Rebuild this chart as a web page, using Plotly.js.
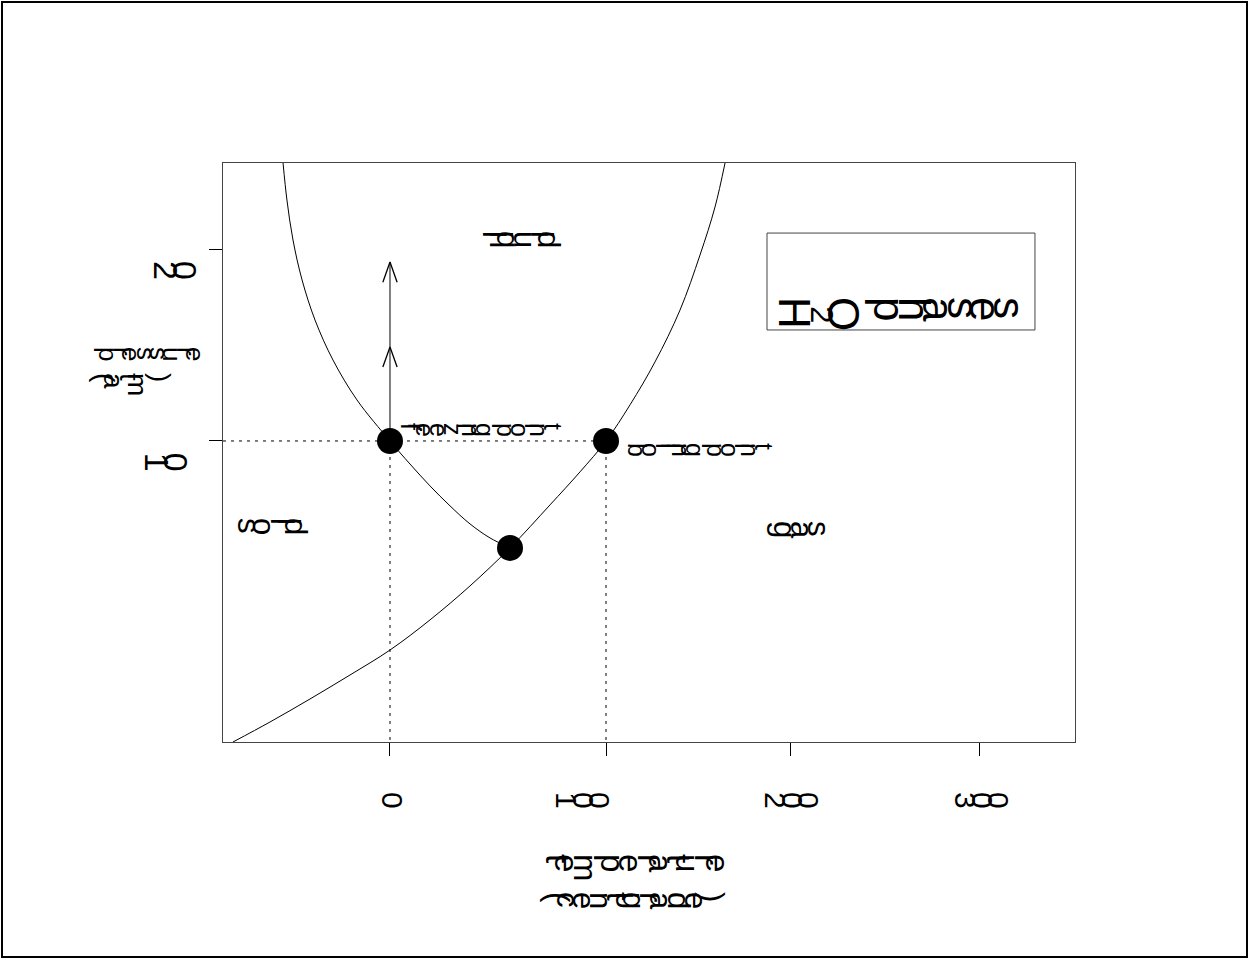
<!DOCTYPE html>
<html><head><meta charset="utf-8">
<script src="https://cdn.plot.ly/plotly-3.0.1.min.js"></script>
<style>
html,body{margin:0;padding:0;background:#fff;}
#chart{width:1249px;height:960px;}
#frame{position:absolute;left:1px;top:1px;width:1243px;height:953px;border:2px solid #000;pointer-events:none;}
</style></head><body>
<div id="chart"></div><div id="frame"></div>
<script>
// solid-liquid boundary (temperature, pressure)
const fusionT = [-49.5, -47.7, -44.9, -40.7, -34.7, -26.4, -15.3, 0, 9.26, 18.52, 27.78, 37.04, 46.30, 55.56];
const fusionP = [2.448, 2.255, 2.047, 1.839, 1.630, 1.422, 1.214, 1.0, 0.880, 0.766, 0.662, 0.568, 0.495, 0.443];
// solid-gas and liquid-gas boundary
const vaporT = [-72.69, -55.56, -37.04, -18.52, 0, 18.52, 37.04, 55.56, 74.07, 87.96, 100, 111.11, 122.69, 134.26, 143.52, 150.46, 155.09];
const vaporP = [-0.568, -0.464, -0.344, -0.219, -0.089, 0.068, 0.245, 0.443, 0.667, 0.839, 1.0, 1.188, 1.412, 1.682, 1.969, 2.219, 2.448];
// freezing, boiling, triple point
const pointT = [0, 100, 55.56];
const pointP = [1, 1, 0.443];
// vertical arrow
const arrowT = [0, 0];
const arrowP = [1, 1.932];
const arrowTipP = [1.49, 1.932];
// axis ticks
const xTickVals = [0, 100, 185.2, 273.1];
const xTickText = ['0', '100\u00a0\u00a0\u00a0\u00a0\u00a0\u00a0', '200', '300'];
const yTickVals = [1, 2];
const yTickText = ['10\u00a0', '20'];
// labels
const regionText = ['liquid', 'solid', 'gas'];
const regionT = [42.1, -71.3, 176.9];
const regionP = [2.25, 0.755, 0.74];
const pointText = ['freezing point', 'boiling point'];
const pointLabT = [4.2, 109.3];
const pointLabP = [1.222, 1.118];
const legendText = 'H<sub>2</sub>O phases';
const xTitleLines = ['temperature', '(centigrade)'];
const yTitleLines = ['pressure', '(atm)'];

const FONT = 'Liberation Sans, Arial, sans-serif';
const traces = [];
traces.push({x: fusionT, y: fusionP, mode: 'lines', line: {color: '#000', width: 1, shape: 'spline'}, hoverinfo: 'skip'});
traces.push({x: vaporT, y: vaporP, mode: 'lines', line: {color: '#000', width: 1, shape: 'spline'}, hoverinfo: 'skip'});
// dotted guides
const dot = {color: '#000', width: 1, dash: '3px,5px'};
traces.push({x: [-77.3, pointT[1]], y: [pointP[0], pointP[1]], mode: 'lines', line: dot});
traces.push({x: [pointT[0], pointT[0]], y: [pointP[0], -0.568], mode: 'lines', line: dot});
traces.push({x: [pointT[1], pointT[1]], y: [pointP[1], -0.568], mode: 'lines', line: dot});
// arrow shaft and heads
traces.push({x: arrowT, y: arrowP, mode: 'lines', line: {color: '#000', width: 1}});
const hx = [], hy = [];
arrowTipP.forEach(p => { hx.push(arrowT[0] - 3.3, arrowT[0], arrowT[0] + 3.3, null); hy.push(p - 0.105, p, p - 0.105, null); });
traces.push({x: hx, y: hy, mode: 'lines', line: {color: '#000', width: 1.3}});
traces.push({x: pointT, y: pointP, mode: 'markers', marker: {color: '#000', size: 26}});

const ann = [];
regionText.forEach((t, i) => ann.push({x: regionT[i], y: regionP[i], xref: 'x', yref: 'y', text: t, showarrow: false, xanchor: 'left', yanchor: 'top', font: {family: FONT, size: 31, color: '#000'}}));
pointText.forEach((t, i) => ann.push({x: pointLabT[i], y: pointLabP[i], xref: 'x', yref: 'y', text: t, showarrow: false, xanchor: 'left', yanchor: 'top', font: {family: FONT, size: 25, color: '#000'}}));
ann.push({x: 0.6502, y: 0.8407, xref: 'paper', yref: 'paper', text: legendText, showarrow: false, xanchor: 'left', yanchor: 'top', font: {family: FONT, size: 44, color: '#000'}});
ann.push({x: 0.3768, y: -0.1382, xref: 'paper', yref: 'paper', text: xTitleLines[0], showarrow: false, xanchor: 'left', yanchor: 'top', font: {family: FONT, size: 33, color: '#000'}});
ann.push({x: 0.3785, y: -0.2073, xref: 'paper', yref: 'paper', text: xTitleLines[1], showarrow: false, xanchor: 'left', yanchor: 'top', font: {family: FONT, size: 31, color: '#000'}});
ann.push({x: -0.1479, y: 0.7275, xref: 'paper', yref: 'paper', text: yTitleLines[0], showarrow: false, xanchor: 'left', yanchor: 'top', font: {family: FONT, size: 26, color: '#000'}});
ann.push({x: -0.1526, y: 0.6844, xref: 'paper', yref: 'paper', text: yTitleLines[1], showarrow: false, xanchor: 'left', yanchor: 'top', font: {family: FONT, size: 28, color: '#000'}});

const layout = {
  width: 1249, height: 960,
  margin: {l: 223, r: 174, t: 163, b: 218},
  paper_bgcolor: '#fff', plot_bgcolor: '#fff',
  showlegend: false,
  font: {family: FONT, color: '#000'},
  xaxis: {range: [-77.3, 317.1], showgrid: false, zeroline: false, showline: true, mirror: true, linecolor: '#444', linewidth: 1,
    ticks: 'outside', ticklen: 13, tickcolor: '#000', tickwidth: 1, tickvals: xTickVals, ticktext: xTickText,
    tickfont: {family: FONT, size: 30, color: '#000'}, ticklabelstandoff: 0},
  yaxis: {range: [-0.568, 2.448], showgrid: false, zeroline: false, showline: true, mirror: true, linecolor: '#444', linewidth: 1,
    ticks: 'outside', ticklen: 13, tickcolor: '#000', tickwidth: 1, tickvals: yTickVals, ticktext: yTickText,
    tickfont: {family: FONT, size: 34, color: '#000'}, ticklabelstandoff: 10},
  shapes: [{type: 'rect', xref: 'paper', yref: 'paper', x0: 0.6385, x1: 0.953, y0: 0.7116, y1: 0.879, line: {color: '#444', width: 1}}],
  annotations: ann
};
Plotly.newPlot('chart', traces, layout, {staticPlot: true}).then(gd => {
  gd.querySelectorAll('text').forEach(t => t.setAttribute('rotate', '90'));
});
</script></body></html>
